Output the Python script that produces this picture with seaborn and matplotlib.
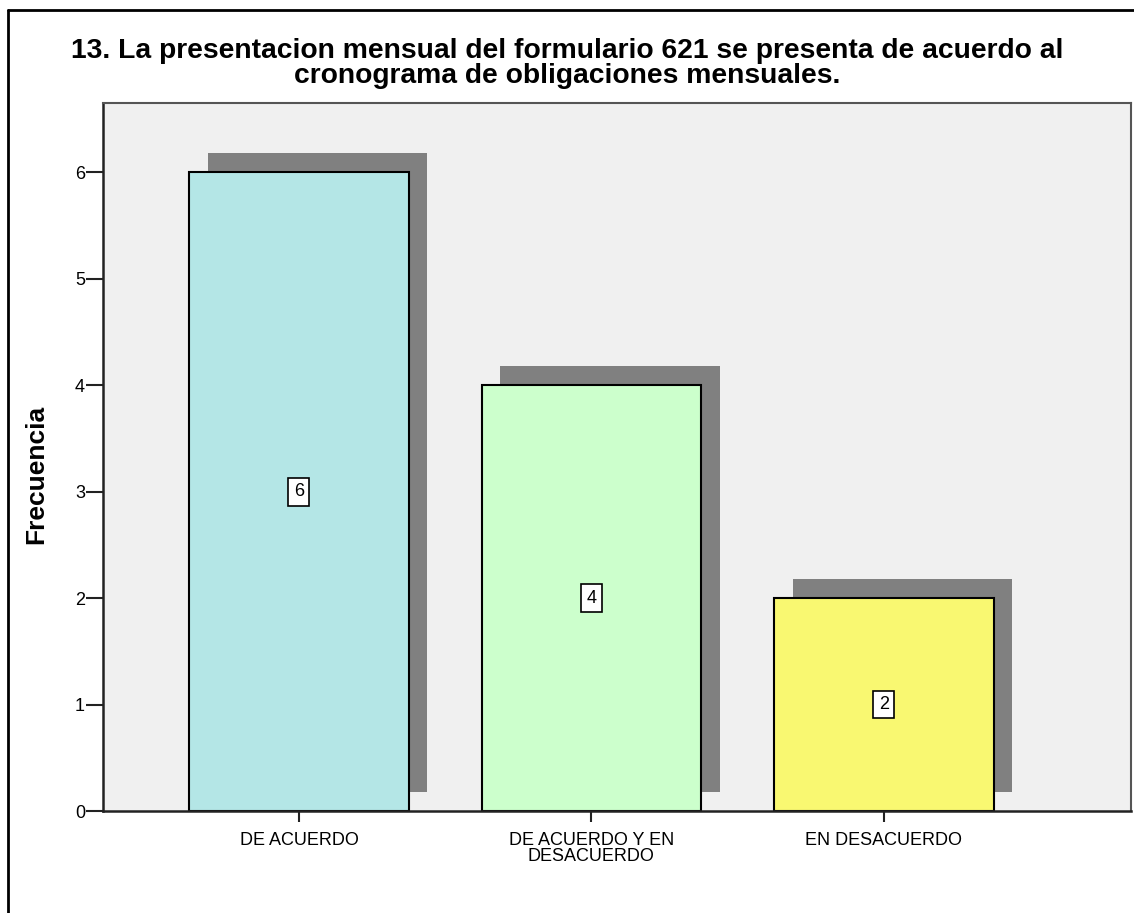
import numpy as np
import matplotlib
matplotlib.use("Agg")
import matplotlib.pyplot as plt
import seaborn as sns
from matplotlib.lines import Line2D

# data
categories = ["DE ACUERDO", "DE ACUERDO Y EN\nDESACUERDO", "EN DESACUERDO"]
frequencies = [6, 4, 2]
bar_colors = ["#b4e6e6", "#ccffcc", "#f9f871"]
y_ticks = [0, 1, 2, 3, 4, 5, 6]

title = ("13. La presentacion mensual del formulario 621 se presenta de acuerdo al\n"
         "cronograma de obligaciones mensuales.")

sns.set_style("white")
plt.rcParams["font.family"] = ["Liberation Sans", "DejaVu Sans"]
plt.rcParams["text.color"] = "black"
plt.rcParams["axes.labelcolor"] = "black"
plt.rcParams["xtick.color"] = "#222222"
plt.rcParams["ytick.color"] = "#222222"

fig = plt.figure(figsize=(11.34, 9.13), dpi=100)
ax = fig.add_axes([103 / 1134, 1 - 811 / 913, 1028 / 1134, 708 / 913])
ax.set_facecolor("#f0f0f0")

# drop shadows behind the bars (SPSS style)
pos = np.arange(len(categories))
ax.bar(pos + 0.064, frequencies, width=0.75, bottom=0.18,
       color="#808080", linewidth=0, zorder=1)

sns.barplot(x=categories, y=frequencies, hue=categories, palette=bar_colors,
            saturation=1, width=0.75, edgecolor="black", linewidth=1.5,
            legend=False, zorder=2, ax=ax)

# value boxes in the middle of each bar
for i, f in enumerate(frequencies):
    ax.text(i, f / 2, str(f), ha="center", va="center", fontsize=13, zorder=4,
            bbox=dict(boxstyle="square,pad=0.3", facecolor="white",
                      edgecolor="black", linewidth=1.2))

ax.set_xlim(-0.67, 2.845)
ax.set_ylim(0, 6.65)
ax.set_yticks(y_ticks)
ax.tick_params(axis="y", length=12, width=1.5, labelsize=13, pad=1,
               left=True, labelcolor="black")
ax.tick_params(axis="x", length=8, width=1.5, labelsize=13, pad=7,
               bottom=True, labelcolor="black")
for lbl in ax.get_xticklabels():
    lbl.set_linespacing(0.95)

for side in ["left", "bottom"]:
    ax.spines[side].set_color("#222222")
    ax.spines[side].set_linewidth(1.8)
for side in ["top", "right"]:
    ax.spines[side].set_color("#555555")
    ax.spines[side].set_linewidth(1.5)

ax.set_xlabel("")
ax.set_ylabel("Frecuencia", fontsize=19, fontweight="bold")
ax.yaxis.set_label_coords(-0.0535, 0.475)

fig.text(0.5, 1 - 38 / 913, title, ha="center", va="top", fontsize=20.3,
         fontweight="bold", linespacing=0.93)

# outer frame (left and top edges visible in the reference)
fig.add_artist(Line2D([8 / 1134, 8 / 1134], [0, 1 - 10 / 913],
                      transform=fig.transFigure, color="black", linewidth=2))
fig.add_artist(Line2D([8 / 1134, 1], [1 - 10 / 913, 1 - 10 / 913],
                      transform=fig.transFigure, color="black", linewidth=2))

fig.savefig("out.png", dpi=100)
